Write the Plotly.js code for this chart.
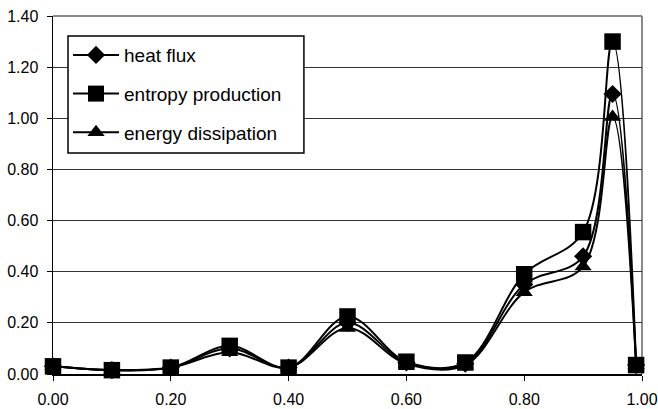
<!DOCTYPE html>
<html>
<head>
<meta charset="utf-8">
<script src="https://cdn.plot.ly/plotly-3.0.1.min.js"></script>
<style>
  html, body { margin: 0; padding: 0; background: #fff; }
  #chart { width: 658px; height: 409px; }
</style>
</head>
<body>
<div id="chart"></div>
<script>
// Relative position along the channel
const position = [0.00, 0.10, 0.20, 0.30, 0.40, 0.50, 0.60, 0.70, 0.80, 0.90, 0.95, 0.99];

// Normalised quantities at each position
const heatFlux          = [0.03, 0.015, 0.025, 0.100, 0.025, 0.200, 0.045, 0.040, 0.350, 0.460, 1.095, 0.035];
const entropyProduction = [0.03, 0.015, 0.025, 0.110, 0.025, 0.225, 0.048, 0.045, 0.390, 0.555, 1.300, 0.035];
const energyDissipation = [0.03, 0.015, 0.025, 0.085, 0.025, 0.180, 0.040, 0.035, 0.320, 0.420, 1.005, 0.035];

const seriesNames = ['heat flux', 'entropy production', 'energy dissipation'];
const seriesSymbols = ['diamond', 'square', 'triangle-up'];
const seriesSizes = [14, 16.5, 15];
const seriesValues = [heatFlux, entropyProduction, energyDissipation];

const yTicks = [0, 0.2, 0.4, 0.6, 0.8, 1.0, 1.2, 1.4];
const xTicks = [0, 0.2, 0.4, 0.6, 0.8, 1.0];

const font = 'Liberation Sans, Arial, sans-serif';

const traces = seriesValues.map((vals, i) => ({
  x: position,
  y: vals,
  name: seriesNames[i],
  legendgroup: 'g' + i,
  type: 'scatter',
  mode: 'lines+markers',
  line: { color: '#000', width: 2, shape: 'spline', smoothing: 1 },
  marker: { symbol: seriesSymbols[i], size: seriesSizes[i], color: '#000' },
  cliponaxis: false
}));

const layout = {
  width: 658,
  height: 409,
  margin: { l: 53, r: 16, t: 16, b: 35 },
  paper_bgcolor: '#fff',
  plot_bgcolor: '#fff',
  font: { family: font, color: '#000' },
  showlegend: true,
  legend: {
    x: 0.0255, y: 0.944, xanchor: 'left', yanchor: 'top',
    bgcolor: 'rgba(0,0,0,0)', borderwidth: 0,
    font: { family: font, size: 19, color: '#000' },
    traceorder: 'grouped', tracegroupgap: 11,
    itemwidth: 46
  },
  xaxis: {
    range: [0, 1.0],
    tickvals: xTicks,
    tickformat: '.2f',
    showgrid: false,
    zeroline: false,
    showline: true, linecolor: '#000', linewidth: 1.5,
    ticks: 'outside', ticklen: 5, tickcolor: '#000',
    ticklabelstandoff: 5,
    tickfont: { family: font, size: 16, color: '#000' }
  },
  yaxis: {
    range: [0, 1.4],
    tickvals: yTicks,
    tickformat: '.2f',
    showgrid: true, gridcolor: '#333', gridwidth: 1,
    zeroline: false,
    showline: true, linecolor: '#000', linewidth: 1.5,
    ticks: 'outside', ticklen: 5, tickcolor: '#000',
    ticklabelstandoff: 5,
    tickfont: { family: font, size: 16, color: '#000' }
  },
  shapes: [
    // grey frame on the top and right sides of the plot area
    { type: 'line', xref: 'paper', yref: 'paper', x0: 0, x1: 1, y0: 1, y1: 1,
      line: { color: '#888', width: 2 }, layer: 'below' },
    { type: 'line', xref: 'paper', yref: 'paper', x0: 1, x1: 1, y0: 0, y1: 1,
      line: { color: '#888', width: 2 }, layer: 'below' },
    // legend box
    { type: 'rect', xref: 'paper', yref: 'paper', x0: 0.0255, x1: 0.426, y0: 0.617, y1: 0.944,
      fillcolor: '#fff', line: { color: '#000', width: 1.5 }, layer: 'above' }
  ]
};

Plotly.newPlot('chart', traces, layout, { displayModeBar: false, staticPlot: true });
</script>
</body>
</html>
